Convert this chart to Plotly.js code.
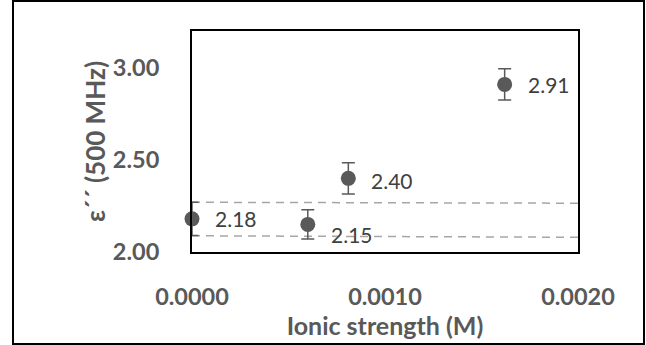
<!DOCTYPE html>
<html>
<head>
<meta charset="utf-8">
<script src="https://cdn.plot.ly/plotly-3.0.1.min.js"></script>
<style>
  html, body { margin: 0; padding: 0; background: #fff; }
  #chart { width: 646px; height: 345px; }
</style>
</head>
<body>
<div id="chart"></div>
<script>
// ---- data ----
const ionicStrength = [0, 0.0006, 0.00081, 0.00162];
const epsilon = [2.18, 2.15, 2.40, 2.91];
const epsilonErr = [0.09, 0.08, 0.085, 0.085];
const pointLabels = ['2.18', '2.15', '2.40', '2.91'];
const bandX = [0, 0.002];
const bandUpper = [2.27, 2.265];
const bandLower = [2.088, 2.08];
const xTickVals = [0, 0.001, 0.002];
const xTickText = ['0.0000', '0.0010', '0.0020'];
const yTickVals = [2.0, 2.5, 3.0];
const yTickText = ['2.00', '2.50', '3.00'];

// ---- styling ----
const GREY = '#595959';
const FONT = 'Lato, "Open Sans", sans-serif';
const labelYShift = [0, -10, -2, 0];

const dashLine = { color: '#a6a6a6', width: 1.5, dash: '8px,6px' };

const traces = [
  { x: bandX, y: bandUpper, mode: 'lines', line: dashLine, hoverinfo: 'skip', cliponaxis: false },
  { x: bandX, y: bandLower, mode: 'lines', line: dashLine, hoverinfo: 'skip', cliponaxis: false },
  {
    x: ionicStrength, y: epsilon, mode: 'markers', cliponaxis: false,
    marker: { size: 15, color: GREY },
    error_y: { type: 'data', array: epsilonErr, visible: true, color: GREY, thickness: 1.5, width: 6.5 }
  }
];

const annotations = ionicStrength.map((x, i) => ({
  x: x, y: epsilon[i], text: pointLabels[i], showarrow: false,
  xanchor: 'left', yanchor: 'middle', xshift: 21, yshift: labelYShift[i],
  font: { family: FONT, size: 21, color: '#404040' }
}));

const layout = {
  width: 646, height: 345,
  margin: { l: 192, r: 68, t: 31, b: 93, pad: 0 },
  paper_bgcolor: '#fff', plot_bgcolor: '#fff',
  showlegend: false,
  font: { family: FONT, color: GREY },
  xaxis: {
    range: [0, 0.002], tickvals: xTickVals, ticktext: xTickText,
    showgrid: false, zeroline: false, showline: true, mirror: true,
    linecolor: '#000', linewidth: 2, ticks: '',
    ticklabelstandoff: 23,
    tickfont: { family: FONT, size: 23.5, color: GREY, weight: 'bold' },
    title: { text: 'Ionic strength (M)', standoff: 4, font: { family: FONT, size: 25, color: GREY, weight: 'bold' } },
    automargin: false
  },
  yaxis: {
    range: [2.0, 3.2], tickvals: yTickVals, ticktext: yTickText,
    showgrid: false, zeroline: false, showline: true, mirror: true,
    linecolor: '#000', linewidth: 2, ticks: '',
    ticklabelstandoff: 26,
    tickfont: { family: FONT, size: 23.5, color: GREY, weight: 'bold' },
    title: { text: 'ε´´ (500 MHz)', standoff: 0, font: { family: FONT, size: 26, color: GREY, weight: 'bold' } },
    automargin: false
  },
  annotations: annotations,
  shapes: [{
    type: 'rect', xref: 'paper', yref: 'paper',
    x0: (13 - 192) / 386, x1: (644 - 192) / 386,
    y0: (252 - 344) / 221, y1: (252 - 1) / 221,
    line: { color: '#000', width: 2 }, fillcolor: 'rgba(0,0,0,0)', layer: 'below'
  }]
};

Plotly.newPlot('chart', traces, layout, { staticPlot: true, displayModeBar: false });
</script>
</body>
</html>
